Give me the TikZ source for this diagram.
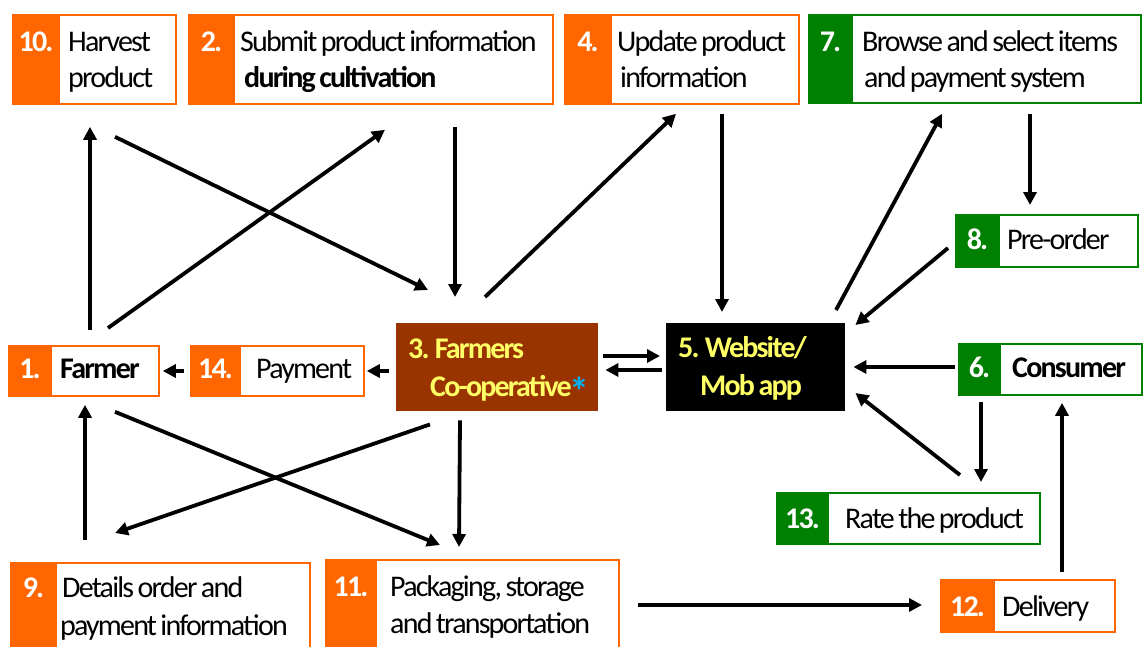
\documentclass[tikz,border=0pt]{standalone}
\usepackage{fontspec}
\setmainfont{Carlito}[LetterSpace=-6.0, WordSpace=0.7]
\usetikzlibrary{arrows.meta,calc}

\definecolor{stepOrange}{HTML}{FF6600}
\definecolor{stepGreen}{HTML}{008000}
\definecolor{coopBrown}{HTML}{993300}
\definecolor{hubYellow}{HTML}{FFFF66}
\definecolor{starBlue}{HTML}{00B0F0}

\tikzset{
  stepbox/.style={draw=#1, line width=1.8pt, fill=white, inner sep=0pt, anchor=north west},
  hubbox/.style={fill=#1, inner sep=0pt, anchor=north west},
  lbl/.style={inner sep=0pt, anchor=base west, text=black, font=\fontsize{30}{36}\selectfont},
  lblb/.style={lbl, font=\fontsize{30}{36}\selectfont\bfseries},
  num/.style={inner sep=0pt, anchor=base, text=white, font=\fontsize{30}{36}\selectfont\bfseries},
  hubtxt/.style={inner sep=0pt, anchor=base west, text=hubYellow, font=\fontsize{30}{36}\selectfont\bfseries},
  arr/.style={line width=3.8pt, -{Triangle[length=13pt,width=13pt]}},
}

% #1 name, #2 x, #3 y, #4 width, #5 height, #6 strip width, #7 colour,
% #8 number, #9 baseline of the number below the top edge
\newcommand\stepnode[9]{%
  \node[stepbox=#7, minimum width=#4pt, minimum height=#5pt] (#1) at (#2,#3) {};
  \fill[#7] (#1.north west) rectangle ($(#1.south west)+(#6,0)$);
  \node[num] (#1-num) at ($(#1.north west)+(#6/2,#9)$) {#8};
}
% large blue asterisk after the co-operative's name
\newcommand\coopstar{\kern-2pt\textcolor{starBlue}{\raisebox{-9pt}{\fontsize{40}{40}\selectfont *}}}

\begin{document}
\begin{tikzpicture}[x=1pt, y=-1pt]
\useasboundingbox[fill=white] (0,0) rectangle (1143,646);

% ---- step boxes ----
\stepnode{harvest}{12}{14}{163}{89}{48}{stepOrange}{10.}{37}
\stepnode{submit}{188}{14}{364}{89}{47}{stepOrange}{2.}{37}
\stepnode{update}{564}{14}{234}{89}{48}{stepOrange}{4.}{37}
\stepnode{browse}{808}{14}{332}{88}{45}{stepGreen}{7.}{37}
\stepnode{preorder}{955}{214}{182}{52}{45}{stepGreen}{8.}{35}
\stepnode{consumer}{958}{343}{183}{51}{43}{stepGreen}{6.}{34}
\stepnode{rate}{776}{492}{263}{51}{53}{stepGreen}{13.}{36}
\stepnode{delivery}{940}{579}{174}{52}{55}{stepOrange}{12.}{37}
\stepnode{packaging}{325}{559}{293}{92}{52}{stepOrange}{11.}{37}
\stepnode{details}{10}{562}{299}{90}{47}{stepOrange}{9.}{35}
\stepnode{farmer}{8}{345}{150}{50}{44}{stepOrange}{1.}{33}
\stepnode{payment}{190}{345}{173}{50}{51}{stepOrange}{14.}{33}

% ---- hub boxes ----
\node[hubbox=coopBrown, minimum width=202pt, minimum height=88pt] (coop) at (396,323) {};
\node[hubbox=black, minimum width=179pt, minimum height=88pt] (web) at (666,323) {};

% ---- labels ----
\node[lbl] (harvest-a) at (68,51) {Harvest};
\node[lbl] (harvest-b) at (68,87) {product};
\node[lbl] (submit-a) at (240,51) {Submit product information};
\node[lblb] (submit-b) at (244,87) {during cultivation};
\node[lbl] (update-a) at (617,51) {Update product};
\node[lbl] (update-b) at (620,87) {information};
\node[lbl] (browse-a) at (862,51) {Browse and select items};
\node[lbl] (browse-b) at (864,87) {and payment system};
\node[lbl] (preorder-a) at (1007,249) {Pre-order};
\node[lblb] (consumer-a) at (1012,377) {Consumer};
\node[lbl] (rate-a) at (845,528) {Rate the product};
\node[lbl] (delivery-a) at (1002,616) {Delivery};
\node[lbl] (packaging-a) at (390,596) {Packaging, storage};
\node[lbl] (packaging-b) at (390,633) {and transportation};
\node[lbl] (details-a) at (62,597) {Details order and};
\node[lbl] (details-b) at (60,635) {payment information};
\node[lblb] (farmer-a) at (60,378) {Farmer};
\node[lbl] (payment-a) at (256,378) {Payment};
\node[hubtxt] (coop-a) at (408,358) {3. Farmers};
\node[hubtxt] (coop-b) at (430,396) {Co-operative\coopstar};
\node[hubtxt] (web-a) at (678,357) {5. Website/};
\node[hubtxt] (web-b) at (700,395) {Mob app};

% ---- connectors ----
\draw[arr] ($(farmer.north west)+(82,-15)$) -- ($(harvest.south west)+(78,22)$);
\draw[arr] ($(farmer.north west)+(100,-17)$) -- ($(submit.south west)+(197,25)$);
\draw[arr] ($(harvest.south west)+(103,32)$) -- ($(coop.north west)+(32,-33)$);
\draw[arr] ($(submit.south west)+(267,22)$) -- ($(coop.north west)+(59,-26)$);
\draw[arr] ($(coop.north west)+(89,-26)$) -- ($(update.south west)+(112,9)$);
\draw[arr] ($(update.south west)+(158,9)$) -- ($(web.north west)+(56,-11)$);
\draw[arr] ($(web.north west)+(170,-13)$) -- ($(browse.south west)+(134,10)$);
\draw[arr] ($(browse.south west)+(222,10)$) -- ($(preorder.north west)+(75,-9)$);
\draw[arr] ($(preorder.north west)+(-7,34)$) -- ($(web.north east)+(10,2)$);
\draw[arr] ($(consumer.north west)+(-3,24)$) -- ($(web.north east)+(8,44)$);
\draw[arr] ($(coop.north east)+(5,33)$) -- ($(web.north west)+(-6,33)$);
\draw[arr] ($(web.north west)+(-4,47)$) -- ($(coop.north east)+(7,47)$);
\draw[arr] ($(coop.north west)+(-7,48)$) -- ($(payment.north east)+(2,26)$);
\draw[arr] ($(payment.north west)+(-6,26)$) -- ($(farmer.north east)+(3,26)$);
\draw[arr] ($(consumer.south west)+(23,6)$) -- ($(rate.north west)+(205,-10)$);
\draw[arr] ($(rate.north west)+(184,-17)$) -- ($(web.north east)+(10,70)$);
\draw[arr] ($(delivery.north west)+(122,-7)$) -- ($(consumer.south west)+(104,7)$);
\draw[arr] ($(packaging.north east)+(18,46)$) -- ($(delivery.north west)+(-18,26)$);
\draw[arr] ($(coop.south west)+(64,9)$) -- ($(packaging.north west)+(134,-12)$);
\draw[arr] ($(coop.south west)+(34,13)$) -- ($(details.north west)+(105,-29)$);
\draw[arr] ($(farmer.south west)+(107,15)$) -- ($(packaging.north west)+(115,-14)$);
\draw[arr] ($(details.north west)+(75,-22)$) -- ($(farmer.south west)+(77,8)$);
\end{tikzpicture}
\end{document}
